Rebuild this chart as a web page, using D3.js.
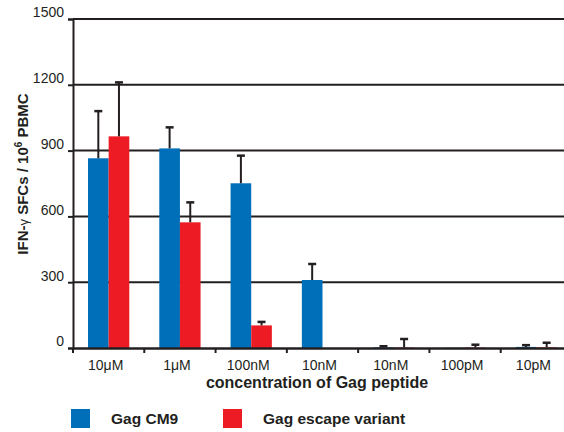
<!DOCTYPE html>
<html>
<head>
<meta charset="UTF-8" />
<script src="https://cdn.jsdelivr.net/npm/d3@7"></script>
<style>
  body { margin: 0; background: #fff; }
  text { font-family: "Liberation Sans", Arial, sans-serif; fill: #231f20; }
</style>
</head>
<body>
<svg id="vis" width="564" height="432"></svg>
<script>
// concentrations (x categories)
const categories = ["10\u03BCM", "1\u03BCM", "100nM", "10nM", "10nM ", "100pM", "10pM"];
const seriesNames = ["Gag CM9", "Gag escape variant"];
// means
const cm9 = [865, 910, 751, 310, 3, 1, 5];
const escape = [965, 573, 103, 0, 2, 2, 3];
// mean + error bar top
const cm9Err = [1080, 1006, 877, 383, 8, 1, 13];
const escapeErr = [1211, 664, 119, 0, 41, 15, 24];
const yTicks = [0, 300, 600, 900, 1200, 1500];

const colors = ["#006fba", "#ed1c24"];

const svg = d3.select("#vis");
const mLeft = 73, mTop = 19, mBottom = 348;
const plotW = 499;

// scales
const x = d3.scaleBand().domain(categories).range([mLeft, mLeft + plotW]).padding(0);
const y = d3.scaleLinear().domain([0, 1500]).range([mBottom, mTop]);

// gridlines
svg.append("g").selectAll("line").data(yTicks.slice(1)).join("line")
  .attr("x1", mLeft).attr("x2", mLeft + plotW)
  .attr("y1", d => y(d)).attr("y2", d => y(d))
  .attr("stroke", "#231f20").attr("stroke-width", 2);

// bars
const inner = d3.scaleBand().domain([0, 1]).range([15, x.bandwidth() - 15]).padding(0);
const series = [cm9, escape];
const errs = [cm9Err, escapeErr];

series.forEach((vals, s) => {
  svg.append("g").selectAll("rect").data(vals).join("rect")
    .attr("x", (d, i) => x(categories[i]) + inner(s))
    .attr("width", inner.bandwidth())
    .attr("y", d => y(d))
    .attr("height", d => mBottom - y(d))
    .attr("fill", colors[s]);
});

// error bars
series.forEach((vals, s) => {
  const g = svg.append("g");
  vals.forEach((v, i) => {
    const hi = errs[s][i];
    if (hi <= v) return;
    const cx = x(categories[i]) + inner(s) + inner.bandwidth() / 2;
    g.append("line").attr("x1", cx).attr("x2", cx)
      .attr("y1", y(v)).attr("y2", y(hi))
      .attr("stroke", "#231f20").attr("stroke-width", 2);
    g.append("line").attr("x1", cx - 4).attr("x2", cx + 4)
      .attr("y1", y(hi)).attr("y2", y(hi))
      .attr("stroke", "#231f20").attr("stroke-width", 2.5);
  });
});

// y axis
const yAxis = d3.axisLeft(y).tickValues(yTicks).tickFormat(d3.format("d")).tickSize(5).tickPadding(4);
const gy = svg.append("g").attr("transform", "translate(" + mLeft + ",0)").call(yAxis);
gy.select(".domain").attr("stroke", "#231f20").attr("stroke-width", 2);
gy.selectAll(".tick line").attr("stroke", "#231f20").attr("stroke-width", 2);
gy.selectAll(".tick text").attr("font-size", 14).attr("fill", "#231f20")
  .attr("font-family", "Liberation Sans, Arial, sans-serif").attr("dy", "-0.15em");

// x axis
const xAxis = d3.axisBottom(x).tickSize(0).tickPadding(12);
const gx = svg.append("g").attr("transform", "translate(0," + mBottom + ")").call(xAxis);
gx.select(".domain").attr("stroke", "#231f20").attr("stroke-width", 2.5);
gx.selectAll(".tick text").attr("font-size", 14).attr("fill", "#231f20")
  .attr("font-family", "Liberation Sans, Arial, sans-serif").attr("dx", -3);
// ticks between categories
svg.append("g").selectAll("line").data(categories).join("line")
  .attr("x1", d => x(d)).attr("x2", d => x(d))
  .attr("y1", mBottom).attr("y2", mBottom + 5)
  .attr("stroke", "#231f20").attr("stroke-width", 2);

// axis titles
svg.append("text")
  .attr("x", 317).attr("y", 388)
  .attr("text-anchor", "middle").attr("font-size", 16).attr("font-weight", "bold")
  .text("concentration of Gag peptide");

const yt = svg.append("text")
  .attr("transform", "translate(28,174) rotate(-90)")
  .attr("text-anchor", "middle").attr("font-size", 15).attr("font-weight", "bold");
yt.append("tspan").text("IFN-");
yt.append("tspan").attr("font-weight", "normal").attr("font-size", 13).text("\u03B3");
yt.append("tspan").text(" SFCs / 10");
yt.append("tspan").attr("font-size", 10).attr("dy", -6).text("6");
yt.append("tspan").attr("dy", 6).text(" PBMC");

// legend
const legX = [71, 223];
seriesNames.forEach((name, s) => {
  svg.append("rect").attr("x", legX[s]).attr("y", 409)
    .attr("width", 19).attr("height", 19).attr("fill", colors[s]);
  svg.append("text").attr("x", legX[s] + 40).attr("y", 424)
    .attr("font-size", 15.5).attr("font-weight", "bold").text(name);
});
</script>
</body>
</html>
